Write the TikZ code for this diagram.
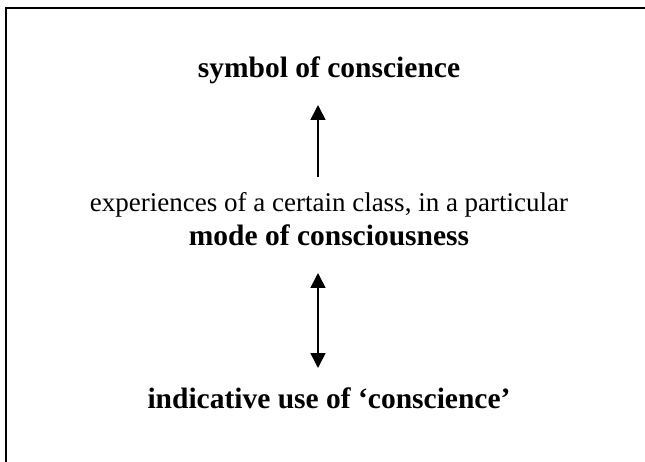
\documentclass[tikz,border=0pt]{standalone}
\usepackage{fontspec}
\setmainfont{Liberation Serif}
\usetikzlibrary{arrows.meta}
\begin{document}
\begin{tikzpicture}[x=1pt,y=-1pt,
  lbl/.style={inner sep=0pt,anchor=base,font=\fontsize{29.5}{34}\selectfont\bfseries},
  plain/.style={inner sep=0pt,anchor=base,font=\fontsize{27}{34}\selectfont},
  conn/.style={line width=1.6pt,-{Triangle[length=15pt,width=15pt]}},
  dconn/.style={line width=1.6pt,{Triangle[length=15pt,width=15pt]}-{Triangle[length=15pt,width=15pt]}}]
\useasboundingbox (0,0) rectangle (645,462);
\clip (0,0) rectangle (645,462);
\draw[line width=1.8pt] (6,8) rectangle (700,520);
\node[lbl] (sym) at (329,78) {symbol of conscience};
\node[plain] (exp) at (329,212) {experiences of a certain class, in a particular};
\node[lbl] (mode) at (329,246) {mode of consciousness};
\node[lbl] (ind) at (329,408) {indicative use of ‘conscience’};
\coordinate (u1) at (318,177);
\coordinate (u2) at (318,105);
\coordinate (d1) at (318,273);
\coordinate (d2) at (318,368);
\draw[conn] (u1) -- (u2);
\draw[dconn] (d1) -- (d2);
\end{tikzpicture}
\end{document}
